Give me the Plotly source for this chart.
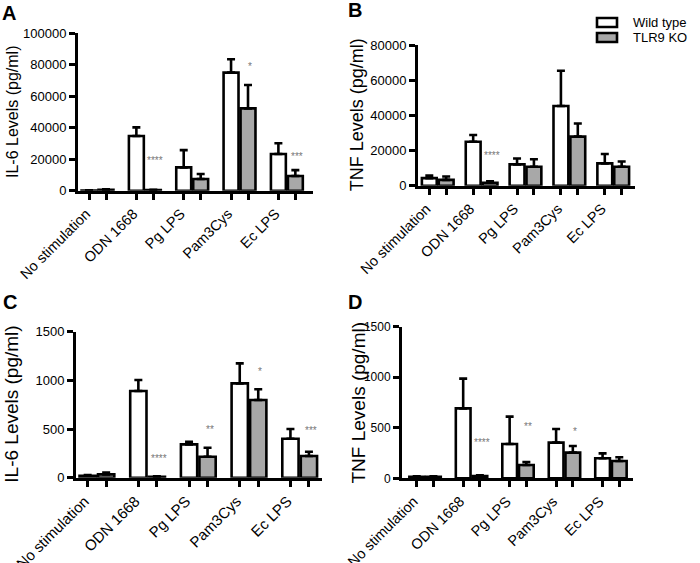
import plotly.graph_objects as go

W, H = 700, 563

categories = ["No stimulation", "ODN 1668", "Pg LPS", "Pam3Cys", "Ec LPS"]
series_names = ["Wild type", "TLR9 KO"]

# Panel A: IL-6 (high range)
a_wt = [150, 34750, 14800, 75000, 23300]
a_wt_err = [100, 5500, 11000, 8500, 6800]
a_ko = [600, 400, 7400, 52300, 9300]
a_ko_err = [300, 200, 3200, 14900, 3800]
a_stars = [(1, "****", 17400), (3, "*", 77000), (4, "***", 20000)]

# Panel B: TNF (high range)
b_wt = [4300, 25000, 12100, 45300, 12700]
b_wt_err = [1500, 3800, 3400, 20100, 5300]
b_ko = [3300, 1700, 10800, 27900, 10800]
b_ko_err = [1900, 800, 4200, 7500, 3000]
b_stars = [(1, "****", 15500)]

# Panel C: IL-6 (low range)
c_wt = [20, 890, 342, 969, 400]
c_wt_err = [8, 113, 28, 206, 100]
c_ko = [34, 10, 216, 798, 223]
c_ko_err = [18, 5, 92, 110, 44]
c_stars = [(1, "****", 171), (2, "**", 462), (3, "*", 1062), (4, "***", 455)]

# Panel D: TNF (low range)
d_wt = [16, 692, 340, 353, 198]
d_wt_err = [5, 294, 270, 135, 49]
d_ko = [16, 23, 132, 254, 171]
d_ko_err = [4, 6, 30, 66, 37]
d_stars = [(1, "****", 323), (2, "**", 485), (3, "*", 438)]

a_ticks = [0, 20000, 40000, 60000, 80000, 100000]
b_ticks = [0, 20000, 40000, 60000, 80000]
c_ticks = [0, 500, 1000, 1500]
d_ticks = [0, 500, 1000, 1500]

FONT = "Liberation Sans, Arial, sans-serif"
WT_COLOR = "white"
KO_COLOR = "#a8a8a8"

panels = [
    dict(letter="A", wt=a_wt, wte=a_wt_err, ko=a_ko, koe=a_ko_err, stars=a_stars,
         ticks=a_ticks, ymax=100000, title="IL-6 Levels (pg/ml)",
         px=(78, 313), py=(33.3, 190.7), G=2.79, xr=(-0.65, 13.2),
         tfs=16, tx=12, letter_c=(8.5, 12.5), yfs=13, xfs=14.5),
    dict(letter="B", wt=b_wt, wte=b_wt_err, ko=b_ko, koe=b_ko_err, stars=b_stars,
         ticks=b_ticks, ymax=80000, title="TNF Levels (pg/ml)",
         px=(418, 635), py=(45, 185.7), G=2.6, xr=(-0.67, 12.19),
         tfs=18, tx=357, letter_c=(355, 10), yfs=13, xfs=14.5),
    dict(letter="C", wt=c_wt, wte=c_wt_err, ko=c_ko, koe=c_ko_err, stars=c_stars,
         ticks=c_ticks, ymax=1500, title="IL-6 Levels (pg/ml)",
         px=(76, 321.7), py=(331.7, 477.7), G=2.74, xr=(-0.63, 12.65),
         tfs=19, tx=12, letter_c=(10, 302), yfs=13, xfs=15),
    dict(letter="D", wt=d_wt, wte=d_wt_err, ko=d_ko, koe=d_ko_err, stars=d_stars,
         ticks=d_ticks, ymax=1500, title="TNF Levels (pg/ml)",
         px=(402, 633), py=(326.7, 478.3), G=2.78, xr=(-0.88, 12.94),
         tfs=19, tx=358, letter_c=(355, 302), yfs=12, xfs=14.5),
]

fig = go.Figure()
annotations = []
layout_axes = {}

for i, p in enumerate(panels):
    n = i + 1
    xa = "x" if n == 1 else f"x{n}"
    ya = "y" if n == 1 else f"y{n}"
    G = p["G"]
    x_wt = [g * G for g in range(len(categories))]
    x_ko = [g * G + 1 for g in range(len(categories))]
    for name, xs, vals, errs, color in [
        (series_names[0], x_wt, p["wt"], p["wte"], WT_COLOR),
        (series_names[1], x_ko, p["ko"], p["koe"], KO_COLOR),
    ]:
        fig.add_trace(go.Bar(
            x=xs, y=vals, name=name, width=0.88,
            marker=dict(color=color, line=dict(color="black", width=2.6)),
            error_y=dict(type="data", array=errs, arrayminus=[0] * len(errs),
                         symmetric=False, color="black", thickness=2.6, width=4),
            xaxis=xa, yaxis=ya, showlegend=False, hoverinfo="skip",
        ))
    tickvals = []
    ticktext = []
    for g in range(len(categories)):
        tickvals += [x_wt[g], x_ko[g]]
        ticktext += [categories[g], ""]
    x0, x1 = p["px"]
    yt, yb = p["py"]
    layout_axes["xaxis" if n == 1 else f"xaxis{n}"] = dict(
        domain=[x0 / W, x1 / W], range=list(p["xr"]), anchor=ya,
        showline=True, linecolor="black", linewidth=3, mirror=False,
        ticks="outside", ticklen=6, tickwidth=3, tickcolor="black",
        tickmode="array", tickvals=tickvals, ticktext=ticktext,
        tickangle=-45, ticklabelshift=-3,
        tickfont=dict(size=p["xfs"], family=FONT, color="black"),
        showgrid=False, zeroline=False, automargin=False, fixedrange=True,
    )
    layout_axes["yaxis" if n == 1 else f"yaxis{n}"] = dict(
        domain=[1 - yb / H, 1 - yt / H], range=[0, p["ymax"]], anchor=xa,
        showline=True, linecolor="black", linewidth=3,
        ticks="outside", ticklen=6, tickwidth=3, tickcolor="black",
        tickmode="array", tickvals=p["ticks"], ticktext=[str(t) for t in p["ticks"]],
        tickfont=dict(size=p["yfs"], family=FONT, color="black"),
        showgrid=False, zeroline=False, automargin=False, fixedrange=True,
    )
    for g, txt, yv in p["stars"]:
        annotations.append(dict(
            x=x_ko[g], y=yv, xref=xa, yref=ya, text=txt, showarrow=False,
            font=dict(size=10, family=FONT, color="#777777"),
            xanchor="center", yanchor="middle", xshift=2, yshift=3,
        ))
    # y-axis title
    annotations.append(dict(
        x=p["tx"] / W, y=1 - (yt + yb) / 2 / H, xref="paper", yref="paper",
        text=p["title"], textangle=-90, showarrow=False,
        font=dict(size=p["tfs"], family=FONT, color="black"),
        xanchor="center", yanchor="middle",
    ))
    # panel letter
    lx, ly = p["letter_c"]
    annotations.append(dict(
        x=lx / W, y=1 - ly / H, xref="paper", yref="paper",
        text=f"<b>{p['letter']}</b>", showarrow=False,
        font=dict(size=20, family=FONT, color="black"),
        xanchor="center", yanchor="middle",
    ))

# legend drawn with shapes + text
shapes = []
legend_rows = [(series_names[0], WT_COLOR, 22.5), (series_names[1], KO_COLOR, 37.5)]
for name, color, yc in legend_rows:
    shapes.append(dict(
        type="rect", xref="paper", yref="paper",
        x0=597 / W, x1=617 / W, y0=1 - (yc - 4.5) / H, y1=1 - (yc + 4.5) / H,
        fillcolor=color, line=dict(color="black", width=2.6),
    ))
    annotations.append(dict(
        x=631 / W, y=1 - yc / H, xref="paper", yref="paper", text=name,
        showarrow=False, xanchor="left", yanchor="middle",
        font=dict(size=13, family=FONT, color="black"),
    ))

fig.update_layout(
    width=W, height=H, margin=dict(l=0, r=0, t=0, b=0),
    paper_bgcolor="white", plot_bgcolor="white",
    font=dict(family=FONT, color="black"),
    barmode="overlay", showlegend=False, hovermode=False,
    annotations=annotations, shapes=shapes,
    **layout_axes,
)

fig.write_html(
    "out.html",
    config={"displayModeBar": False},
    post_script="document.body.style.margin='0';document.body.style.padding='0';",
)
